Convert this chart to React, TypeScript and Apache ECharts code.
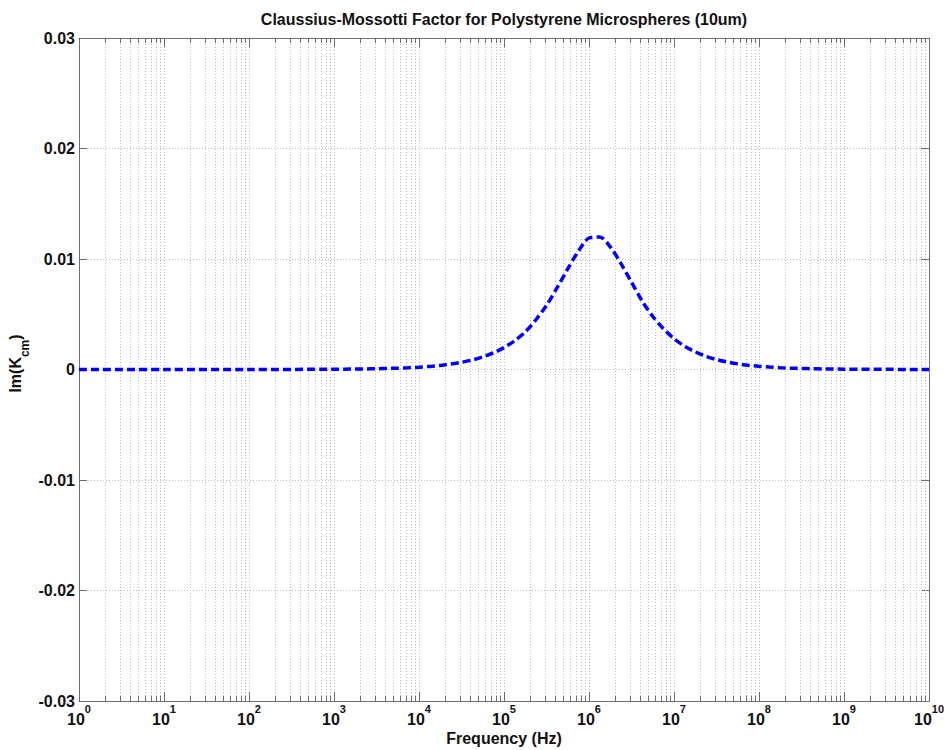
import React, { useEffect, useRef } from "react";
import * as echarts from "echarts";

// Frequency sweep (Hz), eight points per decade through the dispersion region
const freqHz = [
  1, 10, 100,
  1e3, 1.334e3, 1.778e3, 2.371e3, 3.162e3, 4.217e3, 5.623e3, 7.499e3,
  1e4, 1.334e4, 1.778e4, 2.371e4, 3.162e4, 4.217e4, 5.623e4, 7.499e4,
  1e5, 1.334e5, 1.778e5, 2.371e5, 3.162e5, 4.217e5, 5.623e5, 7.499e5,
  1e6, 1.334e6, 1.778e6, 2.371e6, 3.162e6, 4.217e6, 5.623e6, 7.499e6,
  1e7, 1.334e7, 1.778e7, 2.371e7, 3.162e7, 4.217e7, 5.623e7, 7.499e7,
  1e8, 1.334e8, 1.778e8, 2.371e8, 3.162e8, 4.217e8, 5.623e8, 7.499e8,
  1e9, 1e10,
];

// Imaginary part of the Clausius-Mossotti factor, Im(Kcm)
const imKcm = [
  0, 0, 0.000002,
  0.00002, 0.00003, 0.00004, 0.00005, 0.00007, 0.00009, 0.00012, 0.00016,
  0.00021, 0.00028, 0.00037, 0.00049, 0.00065, 0.00086, 0.00114, 0.0015,
  0.00198, 0.0026, 0.0034, 0.0045, 0.0058, 0.0074, 0.0091, 0.0107,
  0.0119, 0.012, 0.0111, 0.0096, 0.0079, 0.0062, 0.0048, 0.0037,
  0.0028, 0.0021, 0.0016, 0.0012, 0.0009, 0.00068, 0.00051, 0.00038,
  0.00029, 0.00022, 0.00016, 0.00012, 0.00009, 0.00007, 0.00005, 0.00004,
  0.00003, 0,
];

// Axis ranges
const xMin = 1;
const xMax = 1e10;
const yMin = -0.03;
const yMax = 0.03;
const yStep = 0.01;

// Minor log ticks: 2..9 within each decade
const minorMultipliers = [2, 3, 4, 5, 6, 7, 8, 9];
const decades = [0, 1, 2, 3, 4, 5, 6, 7, 8, 9];
const minorTicks: number[] = [];
decades.forEach((d) =>
  minorMultipliers.forEach((m) => minorTicks.push(m * Math.pow(10, d)))
);

const FONT = "'Liberation Sans', Arial, Helvetica, sans-serif";
const AXIS_COLOR = "#6e6e6e";
const GRID_COLOR = "#bdbdbd";

export default function App() {
  const ref = useRef<HTMLDivElement>(null);

  useEffect(() => {
    if (!ref.current) return;
    const chart = echarts.init(ref.current, null, { renderer: "svg" });

    const gridLeft = 79;
    const gridTop = 38;
    const gridRight = 19;
    const gridBottom = 49;
    const plotCenterX = gridLeft + (948 - gridLeft - gridRight) / 2;
    const plotCenterY = gridTop + (750 - gridTop - gridBottom) / 2;

    const xLabelRich = {
      base: {
        fontFamily: FONT,
        fontWeight: "bold",
        fontSize: 16,
        color: "#111",
        verticalAlign: "bottom",
        lineHeight: 24,
      },
      sup: {
        fontFamily: FONT,
        fontWeight: "bold",
        fontSize: 11,
        color: "#111",
        verticalAlign: "top",
        lineHeight: 24,
      },
    };

    const tickStyle = { color: AXIS_COLOR };
    const gridStyle = { color: GRID_COLOR, type: [1, 2], width: 1 };

    chart.setOption({
      animation: false,
      backgroundColor: "#ffffff",
      grid: {
        left: gridLeft,
        top: gridTop,
        right: gridRight,
        bottom: gridBottom,
        containLabel: false,
      },
      xAxis: [
        {
          type: "log",
          logBase: 10,
          min: xMin,
          max: xMax,
          interval: 1,
          splitNumber: 10,
          axisLine: {
            show: true,
            onZero: false,
            lineStyle: { color: AXIS_COLOR, width: 1 },
          },
          axisTick: { show: true, inside: true, length: 9, lineStyle: tickStyle },
          splitLine: { show: true, lineStyle: gridStyle },
          axisLabel: {
            margin: 2,
            formatter: (v: number) =>
              `{base|10}{sup|${Math.round(Math.log10(v))}}`,
            rich: xLabelRich,
          },
        },
        {
          type: "log",
          logBase: 10,
          position: "top",
          min: xMin,
          max: xMax,
          interval: 1,
          splitNumber: 10,
          axisLine: {
            show: true,
            onZero: false,
            lineStyle: { color: AXIS_COLOR, width: 1 },
          },
          axisTick: { show: true, inside: true, length: 9, lineStyle: tickStyle },
          splitLine: { show: false },
          axisLabel: { show: false },
        },
      ],
      yAxis: [
        {
          type: "value",
          min: yMin,
          max: yMax,
          interval: yStep,
          axisLine: {
            show: true,
            onZero: false,
            lineStyle: { color: AXIS_COLOR, width: 1 },
          },
          axisTick: { show: true, inside: true, length: 8, lineStyle: tickStyle },
          splitLine: { show: true, lineStyle: gridStyle },
          axisLabel: {
            margin: 4,
            fontFamily: FONT,
            fontWeight: "bold",
            fontSize: 16,
            color: "#111",
            formatter: (v: number) =>
              Math.abs(v) < 1e-9 ? "0" : v.toFixed(2),
          },
        },
        {
          type: "value",
          position: "right",
          min: yMin,
          max: yMax,
          interval: yStep,
          axisLine: {
            show: true,
            onZero: false,
            lineStyle: { color: AXIS_COLOR, width: 1 },
          },
          axisTick: { show: true, inside: true, length: 8, lineStyle: tickStyle },
          splitLine: { show: false },
          axisLabel: { show: false },
        },
      ],
      graphic: [
        {
          type: "text",
          x: plotCenterX,
          y: 19,
          style: {
            text: "Claussius-Mossotti Factor for Polystyrene Microspheres (10um)",
            fontFamily: FONT,
            fontWeight: "bold",
            fontSize: 16,
            fill: "#111",
            align: "center",
            verticalAlign: "middle",
          },
        },
        {
          type: "text",
          x: plotCenterX,
          y: 738,
          style: {
            text: "Frequency (Hz)",
            fontFamily: FONT,
            fontWeight: "bold",
            fontSize: 16,
            fill: "#111",
            align: "center",
            verticalAlign: "middle",
          },
        },
        {
          type: "text",
          x: 19,
          y: plotCenterY - 6,
          rotation: Math.PI / 2,
          style: {
            text: "{m|Im(K}{s|cm}{m|)}",
            align: "center",
            verticalAlign: "middle",
            rich: {
              m: {
                fontFamily: FONT,
                fontWeight: "bold",
                fontSize: 16,
                fill: "#111",
                verticalAlign: "top",
                lineHeight: 23,
              },
              s: {
                fontFamily: FONT,
                fontWeight: "bold",
                fontSize: 12,
                fill: "#111",
                verticalAlign: "bottom",
                lineHeight: 23,
              },
            },
          },
        },
      ],
      series: [
        {
          // minor log grid lines and ticks on the bottom and top edges
          type: "custom",
          xAxisIndex: 0,
          yAxisIndex: 0,
          silent: true,
          z: 1,
          clip: false,
          data: minorTicks.map((f) => [f, 0]),
          renderItem: (params: any, api: any) => {
            const p = api.coord([api.value(0), 0]);
            const cs = params.coordSys;
            const x = Math.round(p[0]) + 0.5;
            const bottom = cs.y + cs.height;
            return {
              type: "group",
              children: [
                {
                  type: "line",
                  shape: { x1: x, y1: cs.y, x2: x, y2: bottom },
                  style: { stroke: GRID_COLOR, lineWidth: 1, lineDash: [1, 2] },
                },
                {
                  type: "line",
                  shape: { x1: x, y1: bottom, x2: x, y2: bottom - 5 },
                  style: { stroke: AXIS_COLOR, lineWidth: 1 },
                },
                {
                  type: "line",
                  shape: { x1: x, y1: cs.y, x2: x, y2: cs.y + 5 },
                  style: { stroke: AXIS_COLOR, lineWidth: 1 },
                },
              ],
            };
          },
        },
        {
          type: "line",
          xAxisIndex: 0,
          yAxisIndex: 0,
          z: 5,
          data: freqHz.map((f, i) => [f, imKcm[i]]),
          showSymbol: false,
          smooth: 0.3,
          lineStyle: {
            color: "#0000ff",
            width: 3.5,
            type: [8, 4],
            cap: "butt",
          },
        },
      ],
    });

    return () => chart.dispose();
  }, []);

  return (
    <div
      ref={ref}
      style={{
        position: "fixed",
        left: 0,
        top: 0,
        width: 948,
        height: 750,
        background: "#fff",
      }}
    />
  );
}
